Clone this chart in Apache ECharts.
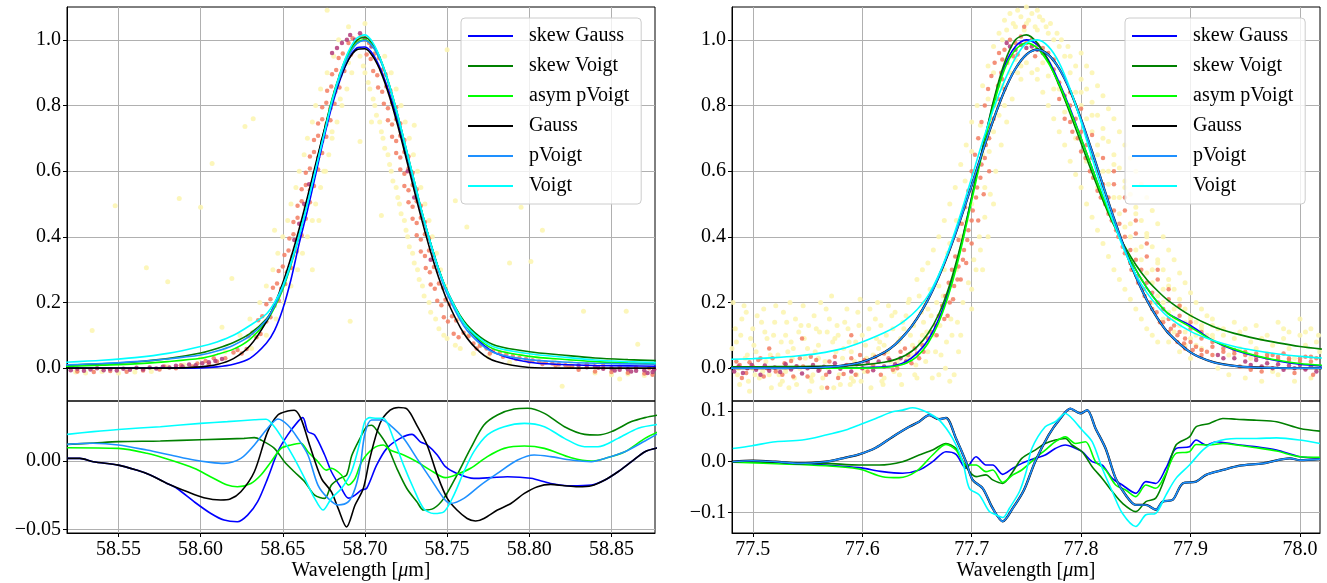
<!DOCTYPE html>
<html><head><meta charset="utf-8">
<script src="https://cdn.jsdelivr.net/npm/echarts@6/dist/echarts.min.js"></script>
<style>html,body{margin:0;padding:0;background:#fff}#c{width:1327px;height:583px}</style>
</head><body><div id="c"></div>
<script>
// ---------- names / colours ----------
const fitNames = ['skew Gauss','skew Voigt','asym pVoigt','Gauss','pVoigt','Voigt'];
const fitColors = ['#0000ff','#008000','#00ff00','#000000','#1e90ff','#00ffff'];

// ---------- left panel: fitted profiles ----------
const xL = [58.518,58.54,58.56,58.58,58.60,58.61,58.62,58.63,58.64,58.645,58.65,58.655,58.66,58.665,58.67,58.675,58.68,58.685,58.69,58.695,58.70,58.705,58.71,58.715,58.72,58.725,58.73,58.735,58.74,58.745,58.75,58.76,58.77,58.78,58.80,58.82,58.84,58.86,58.877];
const L_skewGauss = [0,0,0,0,0.001,0.004,0.012,0.03,0.076,0.115,0.18,0.27,0.38,0.48,0.59,0.7,0.8,0.88,0.94,0.975,0.978,0.955,0.905,0.835,0.75,0.655,0.56,0.465,0.38,0.3,0.235,0.14,0.08,0.045,0.018,0.011,0.008,0.007,0.006];
const L_skewVoigt = [0.009,0.013,0.019,0.029,0.046,0.06,0.078,0.105,0.15,0.19,0.245,0.32,0.41,0.51,0.615,0.72,0.82,0.9,0.96,0.998,1.008,0.985,0.935,0.86,0.77,0.67,0.57,0.47,0.38,0.3,0.235,0.145,0.095,0.068,0.05,0.04,0.031,0.026,0.023];
const L_asymPVoigt = [0.005,0.009,0.013,0.02,0.03,0.042,0.058,0.088,0.142,0.185,0.24,0.315,0.405,0.505,0.61,0.715,0.815,0.895,0.955,0.99,1.0,0.978,0.93,0.856,0.765,0.665,0.565,0.468,0.378,0.298,0.232,0.14,0.085,0.055,0.036,0.027,0.02,0.016,0.013];
const L_gauss = [0,0,0,0,0.004,0.011,0.029,0.068,0.141,0.194,0.259,0.337,0.425,0.521,0.621,0.72,0.81,0.885,0.94,0.97,0.973,0.948,0.898,0.826,0.738,0.641,0.541,0.444,0.354,0.274,0.206,0.107,0.049,0.02,0.002,0,0,0,0];
const L_pVoigt = [0.01,0.014,0.02,0.028,0.04,0.052,0.07,0.098,0.147,0.19,0.245,0.318,0.405,0.502,0.605,0.71,0.81,0.89,0.95,0.988,0.998,0.978,0.93,0.858,0.768,0.668,0.566,0.468,0.376,0.294,0.226,0.13,0.075,0.045,0.026,0.019,0.015,0.013,0.012];
const L_voigt = [0.018,0.024,0.032,0.045,0.066,0.08,0.1,0.13,0.165,0.2,0.25,0.32,0.405,0.5,0.605,0.71,0.815,0.9,0.965,1.005,1.015,0.99,0.935,0.86,0.77,0.67,0.57,0.47,0.38,0.3,0.235,0.14,0.09,0.062,0.044,0.034,0.025,0.02,0.017];

// ---------- right panel: fitted profiles ----------
const xR = [77.479,77.50,77.52,77.54,77.56,77.58,77.60,77.62,77.63,77.64,77.65,77.66,77.67,77.68,77.69,77.70,77.71,77.72,77.73,77.74,77.75,77.76,77.77,77.78,77.79,77.80,77.81,77.82,77.83,77.84,77.85,77.86,77.87,77.88,77.90,77.92,77.94,77.96,77.98,78.00,78.02];
const R_skewGauss = [0,0,0,0,0,0.001,0.002,0.004,0.008,0.02,0.045,0.085,0.15,0.245,0.37,0.52,0.67,0.81,0.92,0.98,1.0,0.985,0.94,0.87,0.79,0.7,0.61,0.52,0.44,0.365,0.3,0.245,0.2,0.165,0.13,0.085,0.055,0.036,0.022,0.012,0.007];
const R_skewVoigt = [0.004,0.004,0.005,0.005,0.006,0.007,0.01,0.018,0.026,0.04,0.065,0.105,0.165,0.255,0.375,0.52,0.67,0.815,0.93,1.0,1.015,0.99,0.935,0.86,0.775,0.685,0.595,0.51,0.435,0.37,0.315,0.27,0.235,0.205,0.16,0.128,0.106,0.09,0.077,0.066,0.058];
const R_asymPVoigt = [0,0,0,0,0,0,0,0.002,0.006,0.015,0.035,0.075,0.14,0.235,0.36,0.51,0.66,0.8,0.91,0.97,0.99,0.975,0.93,0.865,0.785,0.7,0.61,0.52,0.44,0.365,0.3,0.245,0.2,0.165,0.125,0.085,0.058,0.038,0.024,0.014,0.009];
const R_gauss = [0,0,0.0001,0.0006,0.002,0.007,0.019,0.048,0.072,0.106,0.151,0.208,0.279,0.362,0.456,0.557,0.66,0.758,0.845,0.912,0.955,0.97,0.955,0.912,0.845,0.758,0.66,0.557,0.456,0.362,0.279,0.208,0.151,0.106,0.048,0.019,0.007,0.002,0.0006,0.0001,0];
const R_pVoigt = [0,0,0.0001,0.0006,0.002,0.007,0.019,0.048,0.072,0.106,0.151,0.208,0.279,0.362,0.456,0.557,0.66,0.758,0.845,0.912,0.955,0.97,0.955,0.912,0.845,0.758,0.66,0.557,0.456,0.362,0.279,0.208,0.151,0.106,0.048,0.019,0.007,0.002,0.0006,0.0001,0];
const R_voigt = [0.027,0.029,0.032,0.037,0.045,0.058,0.08,0.108,0.125,0.148,0.178,0.22,0.285,0.37,0.47,0.58,0.69,0.79,0.875,0.945,0.99,1.0,0.98,0.93,0.85,0.75,0.64,0.535,0.44,0.355,0.285,0.23,0.188,0.155,0.112,0.085,0.066,0.053,0.043,0.036,0.031];

// ---------- left residuals [wavelength, residual] ----------
const resL_skewGauss = [[58.5188,0.0019],[58.5265,0.0019],[58.5347,-0.0005],[58.55,-0.003],[58.561,-0.0066],[58.569,-0.01],[58.5796,-0.0163],[58.5857,-0.02],[58.596,-0.0296],[58.606,-0.038],[58.6143,-0.043],[58.6224,-0.0442],[58.6286,-0.0394],[58.6347,-0.0296],[58.6408,-0.0126],[58.647,0.0068],[58.653,0.019],[58.6592,0.0287],[58.6622,0.0316],[58.6653,0.0214],[58.6694,0.019],[58.6755,0.0044],[58.6796,-0.0078],[58.6857,-0.02],[58.69,-0.027],[58.694,-0.0248],[58.698,-0.021],[58.701,-0.02],[58.7071,-0.003],[58.7133,0.0092],[58.7214,0.0165],[58.7286,0.0194],[58.7337,0.014],[58.7378,0.0117],[58.744,0.0044],[58.749,-0.0041],[58.756,-0.009],[58.7663,-0.0126],[58.7765,-0.0121],[58.7867,-0.0114],[58.801,-0.0126],[58.813,-0.0163],[58.8255,-0.018],[58.8378,-0.0175],[58.846,-0.0138],[58.854,-0.0078],[58.8622,-0.0005],[58.8704,0.0068],[58.8786,0.0097]];
const resL_skewVoigt = [[58.5188,0.0121],[58.535,0.0131],[58.55,0.0141],[58.5755,0.0146],[58.60,0.0155],[58.6265,0.0165],[58.6327,0.017],[58.6367,0.0153],[58.6449,0.0092],[58.651,-0.0005],[58.657,-0.0078],[58.6633,-0.015],[58.6694,-0.0248],[58.6755,-0.0272],[58.6796,-0.0175],[58.6847,-0.0126],[58.6888,-0.0102],[58.692,0.004],[58.697,0.0165],[58.701,0.025],[58.704,0.026],[58.7071,0.0226],[58.7133,0.0117],[58.7194,-0.0053],[58.7255,-0.02],[58.7316,-0.0296],[58.7357,-0.0357],[58.7418,-0.0345],[58.748,-0.0272],[58.756,-0.0102],[58.7643,0.0092],[58.7724,0.0262],[58.7806,0.0335],[58.7908,0.0379],[58.799,0.0384],[58.8092,0.0347],[58.8214,0.025],[58.8337,0.0194],[58.8418,0.019],[58.85,0.0214],[58.8622,0.0287],[58.8704,0.0316],[58.8786,0.0335]];
const resL_asymPVoigt = [[58.5188,0.0097],[58.55,0.0092],[58.5673,0.0056],[58.5816,0.0007],[58.596,-0.0053],[58.606,-0.0114],[58.6163,-0.0175],[58.6224,-0.0187],[58.6306,-0.0163],[58.6367,-0.0102],[58.6429,-0.0005],[58.649,0.0092],[58.655,0.0117],[58.661,0.0129],[58.6653,0.0068],[58.6714,-0.0005],[58.6765,-0.0066],[58.6796,-0.0053],[58.6857,-0.0102],[58.69,-0.0175],[58.694,-0.0126],[58.698,-0.0005],[58.7051,0.0092],[58.7112,0.0117],[58.7153,0.008],[58.7235,0.0044],[58.7316,-0.0005],[58.7398,-0.0066],[58.749,-0.0121],[58.756,-0.0097],[58.7643,-0.0053],[58.7745,0.0032],[58.7847,0.0092],[58.797,0.0109],[58.8092,0.0092],[58.8255,0.0024],[58.8378,0.0],[58.846,0.0019],[58.8582,0.0068],[58.8704,0.0165],[58.8786,0.0214]];
const resL_gauss = [[58.5188,0.0019],[58.5265,0.0019],[58.5347,-0.0005],[58.55,-0.003],[58.561,-0.0066],[58.569,-0.01],[58.5796,-0.0163],[58.592,-0.0224],[58.602,-0.0267],[58.6122,-0.0284],[58.618,-0.0277],[58.6245,-0.0224],[58.6327,-0.0078],[58.6408,0.0214],[58.647,0.0335],[58.653,0.0364],[58.657,0.037],[58.661,0.031],[58.6663,0.0117],[58.6735,-0.0126],[58.6796,-0.0224],[58.6837,-0.0345],[58.6888,-0.048],[58.694,-0.032],[58.699,-0.02],[58.703,0.002],[58.7092,0.0275],[58.7153,0.037],[58.7204,0.039],[58.7255,0.038],[58.7316,0.026],[58.7378,0.0117],[58.744,-0.0102],[58.75,-0.027],[58.756,-0.0357],[58.7622,-0.0418],[58.7673,-0.0437],[58.7724,-0.0418],[58.7806,-0.0357],[58.7888,-0.0309],[58.797,-0.0236],[58.805,-0.0187],[58.813,-0.017],[58.8214,-0.018],[58.8296,-0.0187],[58.8378,-0.018],[58.846,-0.0138],[58.854,-0.0078],[58.8622,-0.0005],[58.8704,0.0068],[58.8786,0.0097]];
const resL_pVoigt = [[58.5188,0.0121],[58.5347,0.0129],[58.55,0.0117],[58.5673,0.008],[58.5816,0.0044],[58.596,0.0007],[58.606,-0.001],[58.6143,-0.0017],[58.6245,0.0019],[58.6327,0.0117],[58.6408,0.0238],[58.647,0.0306],[58.653,0.0262],[58.6592,0.0165],[58.6653,0.0044],[58.6714,-0.0175],[58.6776,-0.0272],[58.6837,-0.032],[58.69,-0.0296],[58.694,-0.02],[58.697,-0.005],[58.70,0.02],[58.704,0.0299],[58.7102,0.0299],[58.7153,0.0262],[58.7235,0.0165],[58.7316,0.0019],[58.7398,-0.0126],[58.748,-0.0272],[58.752,-0.0309],[58.7602,-0.0272],[58.7704,-0.0175],[58.7806,-0.009],[58.7929,0.0007],[58.803,0.0044],[58.813,0.0032],[58.8255,0.0007],[58.8378,-0.0005],[58.846,0.0019],[58.8582,0.0068],[58.8704,0.0146],[58.8786,0.0202]];
const resL_voigt = [[58.5188,0.0194],[58.5347,0.0214],[58.55,0.023],[58.5755,0.025],[58.60,0.0274],[58.6163,0.0287],[58.6327,0.03],[58.6398,0.0304],[58.6449,0.025],[58.651,0.0141],[58.657,0.0019],[58.6633,-0.0126],[58.6694,-0.0272],[58.6745,-0.0357],[58.6796,-0.0272],[58.6857,-0.02],[58.6918,-0.0078],[58.697,0.014],[58.70,0.029],[58.703,0.0316],[58.7071,0.0311],[58.7112,0.0311],[58.7173,0.0165],[58.7235,-0.003],[58.7296,-0.02],[58.7357,-0.0345],[58.7418,-0.0382],[58.748,-0.037],[58.7541,-0.0248],[58.7602,-0.0078],[58.7663,0.0068],[58.7745,0.019],[58.7847,0.025],[58.797,0.0274],[58.8092,0.025],[58.8214,0.0165],[58.8337,0.0104],[58.8418,0.0104],[58.854,0.0165],[58.8663,0.0238],[58.8786,0.0267]];

// ---------- right residuals ----------
const resR_skewGauss = [[77.4817,0.0],[77.5208,-0.001],[77.5666,-0.0066],[77.5971,-0.0118],[77.6185,-0.0197],[77.6368,-0.023],[77.652,-0.0164],[77.6643,0.0],[77.6765,0.0197],[77.6857,0.0145],[77.6948,-0.013],[77.704,0.0099],[77.7131,-0.0066],[77.7192,-0.0066],[77.7284,-0.025],[77.7376,-0.013],[77.7458,-0.0033],[77.758,0.0066],[77.7672,0.0132],[77.7764,0.026],[77.7856,0.033],[77.7917,0.0296],[77.8009,0.0197],[77.8101,0.0],[77.8193,-0.0066],[77.8285,-0.033],[77.8377,-0.046],[77.85,-0.0625],[77.8592,-0.0395],[77.8683,-0.043],[77.8775,-0.013],[77.8867,0.026],[77.899,0.0296],[77.905,0.0428],[77.9142,0.033],[77.9234,0.0395],[77.9418,0.034],[77.9602,0.0296],[77.9786,0.023],[78.0,0.0099],[78.0183,0.0079]];
const resR_skewVoigt = [[77.4817,0.0],[77.5666,-0.0033],[77.5971,-0.0066],[77.6154,-0.0066],[77.6368,0.0],[77.652,0.0132],[77.6643,0.023],[77.6765,0.036],[77.6857,0.026],[77.6948,-0.0099],[77.704,-0.0296],[77.7131,-0.026],[77.7192,-0.036],[77.7284,-0.0428],[77.7376,-0.0197],[77.7458,0.0066],[77.758,0.023],[77.7672,0.036],[77.7764,0.0428],[77.7856,0.046],[77.7917,0.033],[77.8009,0.0197],[77.8101,-0.0099],[77.8193,-0.033],[77.8285,-0.059],[77.8377,-0.082],[77.85,-0.0987],[77.8592,-0.079],[77.8683,-0.072],[77.8775,-0.026],[77.8867,0.033],[77.899,0.049],[77.905,0.069],[77.9173,0.0757],[77.9296,0.0855],[77.9418,0.084],[77.9602,0.082],[77.9786,0.079],[78.0,0.0658],[78.0183,0.0605]];
const resR_asymPVoigt = [[77.4817,-0.001],[77.5666,-0.008],[77.5971,-0.0145],[77.6185,-0.0296],[77.6337,-0.0316],[77.649,-0.0197],[77.6643,0.0132],[77.6765,0.0342],[77.6857,0.023],[77.6948,-0.0066],[77.704,-0.0066],[77.7131,-0.0197],[77.7192,-0.0164],[77.7284,-0.041],[77.7376,-0.026],[77.7458,-0.0164],[77.758,0.0066],[77.7672,0.023],[77.7764,0.0395],[77.7856,0.049],[77.7948,0.036],[77.804,0.0395],[77.8132,0.0],[77.8224,-0.0164],[77.8316,-0.046],[77.8407,-0.056],[77.85,-0.069],[77.8592,-0.046],[77.8683,-0.0526],[77.8775,-0.023],[77.8867,0.0164],[77.899,0.0197],[77.905,0.034],[77.9173,0.033],[77.9296,0.036],[77.9418,0.033],[77.9602,0.0276],[77.9786,0.021],[78.0,0.0099],[78.0183,0.0086]];
const resR_gauss = [[77.4817,0.0],[77.4994,0.002],[77.5208,0.0],[77.5421,-0.0033],[77.5666,0.0],[77.5818,0.0066],[77.5971,0.0145],[77.6124,0.0276],[77.6276,0.049],[77.6429,0.069],[77.652,0.079],[77.6612,0.092],[77.6704,0.084],[77.6765,0.0868],[77.6857,0.046],[77.6948,0.0],[77.7009,-0.036],[77.7101,-0.0526],[77.7192,-0.092],[77.7284,-0.118],[77.7376,-0.092],[77.7478,-0.056],[77.758,0.0],[77.7703,0.0526],[77.781,0.0855],[77.7902,0.105],[77.7994,0.0954],[77.8055,0.102],[77.8132,0.0658],[77.8224,0.026],[77.8316,-0.033],[77.8407,-0.066],[77.85,-0.0855],[77.8592,-0.0855],[77.8683,-0.095],[77.8744,-0.079],[77.8836,-0.0757],[77.8928,-0.043],[77.905,-0.0395],[77.9142,-0.026],[77.9296,-0.0164],[77.9449,-0.0079],[77.9663,-0.0033],[77.9908,0.0066],[78.0,0.003],[78.0183,0.005]];
const resR_pVoigt = [[77.4817,0.0],[77.4994,0.002],[77.5208,0.0],[77.5421,-0.0033],[77.5666,0.0],[77.5818,0.0066],[77.5971,0.0145],[77.6124,0.0276],[77.6276,0.049],[77.6429,0.069],[77.652,0.079],[77.6612,0.092],[77.6704,0.084],[77.6765,0.0868],[77.6857,0.046],[77.6948,0.0],[77.7009,-0.036],[77.7101,-0.0526],[77.7192,-0.092],[77.7284,-0.118],[77.7376,-0.092],[77.7478,-0.056],[77.758,0.0],[77.7703,0.0526],[77.781,0.0855],[77.7902,0.105],[77.7994,0.0954],[77.8055,0.102],[77.8132,0.0658],[77.8224,0.026],[77.8316,-0.033],[77.8407,-0.066],[77.85,-0.0855],[77.8592,-0.0855],[77.8683,-0.095],[77.8744,-0.079],[77.8836,-0.0757],[77.8928,-0.043],[77.905,-0.0395],[77.9142,-0.026],[77.9296,-0.0164],[77.9449,-0.0079],[77.9663,-0.0033],[77.9908,0.0066],[78.0,0.003],[78.0183,0.005]];
const resR_voigt = [[77.4817,0.026],[77.4994,0.0316],[77.5208,0.0395],[77.5452,0.0428],[77.5666,0.0526],[77.5849,0.0625],[77.5971,0.0724],[77.6124,0.0855],[77.6276,0.0987],[77.6368,0.102],[77.646,0.1066],[77.6582,0.0987],[77.6704,0.0822],[77.6826,0.046],[77.6918,0.0],[77.6979,-0.0526],[77.707,-0.0658],[77.7162,-0.0987],[77.7223,-0.105],[77.7284,-0.1105],[77.7345,-0.092],[77.7437,-0.059],[77.7498,-0.02],[77.755,0.026],[77.7672,0.069],[77.7764,0.079],[77.7856,0.0954],[77.7917,0.0855],[77.8009,0.0625],[77.8101,0.0395],[77.8193,-0.013],[77.8285,-0.059],[77.8377,-0.102],[77.85,-0.128],[77.8592,-0.105],[77.8683,-0.102],[77.8775,-0.066],[77.8867,-0.033],[77.899,-0.0066],[77.9112,0.023],[77.9234,0.0395],[77.9418,0.046],[77.9602,0.046],[77.9786,0.047],[78.0,0.0428],[78.0183,0.036]];

// ---------- measured points, left panel (sparse / mid / dense) ----------
const ptsL_sparse = [[58.615,0.05],[58.631,0.06],[58.624,0.1],[58.64,0.1],[58.63,0.15],[58.646,0.15],[58.636,0.2],[58.651,0.2],[58.64,0.25],[58.655,0.25],[58.644,0.3],[58.659,0.3],[58.647,0.35],[58.662,0.35],[58.65,0.4],[58.665,0.4],[58.653,0.45],[58.668,0.45],[58.655,0.5],[58.67,0.5],[58.658,0.55],[58.673,0.55],[58.66,0.6],[58.675,0.6],[58.663,0.65],[58.678,0.65],[58.665,0.7],[58.68,0.7],[58.668,0.75],[58.683,0.75],[58.67,0.8],[58.686,0.8],[58.673,0.85],[58.689,0.85],[58.677,0.9],[58.692,0.9],[58.681,0.95],[58.684,1.0],[58.69,1.04],[58.70,1.05],[58.697,0.95],[58.712,0.95],[58.70,0.9],[58.716,0.9],[58.703,0.85],[58.719,0.85],[58.706,0.8],[58.722,0.8],[58.709,0.75],[58.7245,0.75],[58.711,0.7],[58.727,0.7],[58.714,0.65],[58.7295,0.65],[58.716,0.6],[58.732,0.6],[58.719,0.55],[58.734,0.55],[58.721,0.5],[58.7365,0.5],[58.724,0.45],[58.739,0.45],[58.726,0.4],[58.741,0.4],[58.729,0.35],[58.7435,0.35],[58.732,0.3],[58.746,0.3],[58.735,0.25],[58.749,0.25],[58.739,0.2],[58.7525,0.2],[58.743,0.15],[58.757,0.15],[58.748,0.1],[58.763,0.1],[58.755,0.07],[58.77,0.075],[58.778,0.065],[58.786,0.055],[58.795,0.045],[58.805,0.035],[58.815,0.025],[58.825,0.02],[58.699,0.92],[58.702,0.87],[58.705,0.82],[58.707,0.77],[58.71,0.72],[58.712,0.67],[58.715,0.62],[58.717,0.57],[58.72,0.52],[58.722,0.47],[58.725,0.42],[58.727,0.37],[58.73,0.32],[58.733,0.27],[58.736,0.22],[58.74,0.17],[58.745,0.12],[58.75,0.09],[58.758,0.06],[58.766,0.045],[58.775,0.035],[58.668,0.3],[58.672,0.45],[58.676,0.6],[58.68,0.72],[58.685,0.82],[58.69,0.93],[58.60,0.03],[58.59,0.01],[58.58,0.005],[58.57,-0.01],[58.56,-0.012],[58.55,-0.015],[58.54,-0.01],[58.53,-0.015],[58.524,-0.012],[58.84,-0.015],[58.85,-0.02],[58.86,-0.018],[58.87,-0.022],[58.877,-0.02],[58.548,0.495],[58.587,0.517],[58.607,0.623],[58.60,0.49],[58.627,0.736],[58.632,0.76],[58.567,0.306],[58.58,0.263],[58.619,0.273],[58.534,0.115],[58.645,0.42],[58.613,0.125],[58.75,0.97],[58.704,0.75],[58.73,0.74],[58.697,0.69],[58.755,0.51],[58.762,0.43],[58.795,0.49],[58.808,0.42],[58.788,0.32],[58.801,0.325],[58.833,0.173],[58.859,0.173],[58.691,0.143],[58.71,0.465],[58.866,0.073],[58.855,-0.033],[58.82,-0.055],[58.788,0.018],[58.677,1.09]];
const ptsL_mid = [[58.620,0.048],[58.6225,0.055],[58.625,0.045],[58.628,0.058],[58.629,0.097],[58.6315,0.108],[58.634,0.094],[58.6365,0.104],[58.635,0.146],[58.6375,0.158],[58.640,0.142],[58.6425,0.155],[58.640,0.195],[58.6425,0.21],[58.645,0.19],[58.6475,0.205],[58.644,0.245],[58.6465,0.258],[58.649,0.242],[58.6515,0.256],[58.6475,0.296],[58.650,0.31],[58.6525,0.292],[58.655,0.305],[58.651,0.345],[58.6535,0.358],[58.656,0.342],[58.6585,0.355],[58.654,0.395],[58.6565,0.408],[58.659,0.392],[58.6615,0.405],[58.6565,0.445],[58.659,0.458],[58.6615,0.442],[58.664,0.455],[58.659,0.495],[58.6615,0.508],[58.664,0.492],[58.6665,0.505],[58.6615,0.545],[58.664,0.558],[58.6665,0.542],[58.669,0.555],[58.664,0.595],[58.6665,0.608],[58.669,0.592],[58.6715,0.605],[58.6665,0.645],[58.669,0.658],[58.6715,0.642],[58.674,0.655],[58.669,0.695],[58.6715,0.708],[58.674,0.692],[58.6765,0.705],[58.6715,0.745],[58.674,0.758],[58.6765,0.742],[58.679,0.755],[58.674,0.795],[58.6765,0.808],[58.679,0.792],[58.6815,0.805],[58.677,0.845],[58.6795,0.858],[58.682,0.842],[58.6845,0.855],[58.680,0.895],[58.6825,0.908],[58.685,0.892],[58.6875,0.905],[58.684,0.945],[58.6865,0.958],[58.689,0.942],[58.6915,0.955],[58.690,0.99],[58.6925,1.005],[58.695,0.995],[58.6975,1.012],[58.700,1.0],[58.7025,0.99],[58.701,0.955],[58.7035,0.942],[58.706,0.958],[58.7085,0.945],[58.705,0.905],[58.7075,0.892],[58.710,0.908],[58.7125,0.895],[58.708,0.855],[58.7105,0.842],[58.713,0.858],[58.7155,0.845],[58.7115,0.805],[58.714,0.792],[58.7165,0.808],[58.719,0.795],[58.714,0.755],[58.7165,0.742],[58.719,0.758],[58.7215,0.745],[58.7165,0.705],[58.719,0.692],[58.7215,0.708],[58.724,0.695],[58.719,0.655],[58.7215,0.642],[58.724,0.658],[58.7265,0.645],[58.7215,0.605],[58.724,0.592],[58.7265,0.608],[58.729,0.595],[58.724,0.555],[58.7265,0.542],[58.729,0.558],[58.7315,0.545],[58.7265,0.505],[58.729,0.492],[58.7315,0.508],[58.734,0.495],[58.729,0.455],[58.7315,0.442],[58.734,0.458],[58.7365,0.445],[58.7315,0.405],[58.734,0.392],[58.7365,0.408],[58.739,0.395],[58.734,0.355],[58.7365,0.342],[58.739,0.358],[58.7415,0.345],[58.737,0.305],[58.7395,0.292],[58.742,0.308],[58.7445,0.295],[58.740,0.255],[58.7425,0.242],[58.745,0.258],[58.7475,0.245],[58.744,0.205],[58.7465,0.192],[58.749,0.208],[58.7515,0.195],[58.748,0.155],[58.7505,0.142],[58.753,0.158],[58.7555,0.145],[58.754,0.105],[58.757,0.094],[58.760,0.108],[58.763,0.097],[58.766,0.075],[58.77,0.068],[58.774,0.06],[58.778,0.052],[58.782,0.047],[58.786,0.042],[58.79,0.037],[58.794,0.032],[58.798,0.028],[58.802,0.024],[58.806,0.02],[58.81,0.017],[58.814,0.014],[58.818,0.011],[58.822,0.009],[58.826,0.006],[58.768,0.06],[58.776,0.045],[58.784,0.035],[58.792,0.028],[58.80,0.02],[58.808,0.013],[58.816,0.008],[58.824,0.004],[58.525,-0.01],[58.535,-0.012],[58.545,-0.009],[58.555,-0.011],[58.565,-0.007],[58.575,-0.004],[58.585,0.0],[58.595,0.005],[58.605,0.012],[58.61,0.02],[58.615,0.03],[58.603,0.022],[58.608,0.03],[58.598,0.014],[58.588,0.009],[58.578,0.005],[58.83,-0.005],[58.84,-0.01],[58.85,-0.012],[58.86,-0.014],[58.87,-0.016],[58.875,-0.02],[58.835,0.012],[58.845,0.008],[58.855,0.004],[58.865,0.002],[58.873,0.0]];
const ptsL_dense = [[58.521,-0.006],[58.525,-0.002],[58.529,-0.008],[58.533,-0.004],[58.537,0.0],[58.541,-0.006],[58.545,-0.003],[58.549,-0.007],[58.553,-0.002],[58.557,-0.005],[58.561,0.001],[58.565,-0.004],[58.569,0.002],[58.573,-0.001],[58.577,0.004],[58.581,0.002],[58.585,0.007],[58.589,0.005],[58.593,0.011],[58.597,0.009],[58.601,0.015],[58.605,0.018],[58.609,0.022],[58.613,0.028],[58.686,0.99],[58.689,1.0],[58.691,1.015],[58.694,1.0],[58.697,1.02],[58.68,0.96],[58.683,0.975],[58.700,1.005],[58.704,0.98],[58.657,0.39],[58.66,0.44],[58.663,0.5],[58.666,0.56],[58.726,0.6],[58.73,0.52],[58.74,0.33],[58.83,0.008],[58.835,0.003],[58.84,0.005],[58.845,-0.002],[58.85,0.0],[58.855,-0.005],[58.86,-0.003],[58.865,-0.008],[58.87,-0.006],[58.875,-0.012],[58.862,-0.01],[58.852,-0.007],[58.842,0.001],[58.872,-0.015],[58.876,-0.004]];

// ---------- measured points, right panel ----------
const ptsR_sparse = [[77.482,0.2],[77.485,0.08],[77.488,-0.05],[77.49,0.15],[77.493,0.03],[77.497,-0.07],[77.5,0.12],[77.503,0.05],[77.506,-0.03],[77.51,0.18],[77.513,0.09],[77.517,-0.06],[77.52,0.14],[77.523,0.04],[77.527,-0.04],[77.53,0.1],[77.534,0.2],[77.537,0.06],[77.54,-0.05],[77.544,0.13],[77.548,0.03],[77.552,-0.07],[77.556,0.16],[77.56,0.07],[77.564,-0.03],[77.568,0.11],[77.572,0.22],[77.576,0.05],[77.58,-0.05],[77.584,0.14],[77.588,0.08],[77.592,-0.04],[77.596,0.17],[77.6,0.1],[77.604,0.03],[77.608,-0.06],[77.612,0.15],[77.616,0.08],[77.62,-0.03],[77.624,0.19],[77.628,0.12],[77.632,0.02],[77.636,-0.05],[77.64,0.16],[77.644,0.1],[77.648,-0.02],[77.652,0.22],[77.656,0.14],[77.66,0.05],[77.664,-0.03],[77.668,0.2],[77.672,0.04],[77.676,0.0],[77.68,-0.04],[77.495,0.04],[77.515,-0.02],[77.535,0.08],[77.555,-0.02],[77.575,0.09],[77.595,-0.02],[77.615,0.06],[77.635,0.09],[77.655,0.1],[77.5,0.0],[77.53,-0.01],[77.56,0.03],[77.59,0.05],[77.62,0.07],[77.645,0.04],[77.484,0.12],[77.487,0.0],[77.492,0.19],[77.498,0.09],[77.502,-0.02],[77.508,0.14],[77.512,0.02],[77.519,0.1],[77.525,-0.05],[77.528,0.17],[77.532,0.05],[77.538,-0.03],[77.542,0.11],[77.546,0.19],[77.55,0.06],[77.554,-0.04],[77.558,0.12],[77.562,0.2],[77.566,0.02],[77.57,0.15],[77.574,-0.06],[77.578,0.1],[77.582,0.03],[77.586,0.18],[77.59,-0.03],[77.594,0.08],[77.598,0.21],[77.602,-0.01],[77.606,0.12],[77.61,0.04],[77.614,0.2],[77.618,-0.04],[77.622,0.1],[77.626,0.02],[77.63,0.17],[77.634,-0.02],[77.638,0.12],[77.642,0.2],[77.646,0.07],[77.65,-0.03],[77.654,0.17],[77.658,0.02],[77.662,0.24],[77.666,0.1],[77.67,-0.02],[77.481,0.06],[77.486,-0.02],[77.489,0.1],[77.494,0.17],[77.496,-0.04],[77.501,0.07],[77.504,0.16],[77.509,-0.01],[77.511,0.11],[77.516,0.04],[77.521,0.19],[77.524,-0.02],[77.526,0.08],[77.531,0.14],[77.533,-0.06],[77.536,0.03],[77.539,0.15],[77.543,0.0],[77.547,0.09],[77.551,0.13],[77.553,-0.03],[77.557,0.05],[77.561,0.11],[77.563,-0.06],[77.567,0.18],[77.569,0.0],[77.573,0.08],[77.577,0.13],[77.579,-0.02],[77.583,0.06],[77.587,0.12],[77.589,-0.05],[77.593,0.02],[77.597,0.13],[77.599,-0.04],[77.603,0.07],[77.607,0.18],[77.609,0.01],[77.613,0.09],[77.617,0.13],[77.619,-0.05],[77.623,0.05],[77.627,0.16],[77.629,-0.01],[77.633,0.08],[77.637,0.14],[77.641,0.03],[77.643,0.21],[77.647,0.13],[77.649,0.01],[77.653,0.08],[77.657,0.2],[77.659,0.11],[77.663,0.16],[77.667,0.05],[77.671,0.13],[77.674,0.22],[77.677,0.08],[77.681,0.15],[77.684,-0.02],[77.688,0.05],[77.65,0.27],[77.655,0.3],[77.66,0.32],[77.665,0.36],[77.67,0.4],[77.675,0.45],[77.68,0.5],[77.685,0.55],[77.69,0.62],[77.695,0.68],[77.70,0.75],[77.705,0.8],[77.71,0.86],[77.715,0.92],[77.72,0.98],[77.725,1.02],[77.73,1.06],[77.735,1.08],[77.682,0.1],[77.687,0.14],[77.692,0.2],[77.697,0.26],[77.702,0.33],[77.707,0.4],[77.712,0.46],[77.717,0.53],[77.722,0.6],[77.727,0.68],[77.732,0.75],[77.737,0.82],[77.742,0.9],[77.66,0.18],[77.67,0.25],[77.678,0.35],[77.686,0.45],[77.694,0.57],[77.70,0.66],[77.708,0.74],[77.715,0.82],[77.72,0.9],[77.69,0.1],[77.70,0.18],[77.71,0.3],[77.715,0.4],[77.72,0.5],[77.675,0.3],[77.68,0.38],[77.686,0.3],[77.69,0.4],[77.695,0.45],[77.70,0.5],[77.705,0.6],[77.71,0.65],[77.714,0.7],[77.718,0.75],[77.723,0.8],[77.728,0.86],[77.733,0.93],[77.7,0.24],[77.704,0.3],[77.708,0.36],[77.712,0.55],[77.716,0.66],[77.72,0.72],[77.725,0.77],[77.73,0.8],[77.74,1.04],[77.745,1.07],[77.75,1.05],[77.755,1.08],[77.76,1.03],[77.765,1.06],[77.77,1.02],[77.775,1.0],[77.78,0.98],[77.745,0.92],[77.755,0.9],[77.765,0.93],[77.735,0.9],[77.785,0.95],[77.75,1.1],[77.76,1.09],[77.728,1.0],[77.732,1.03],[77.738,1.05],[77.742,1.09],[77.748,1.03],[77.752,1.06],[77.758,1.04],[77.762,1.07],[77.768,1.04],[77.772,1.05],[77.778,1.02],[77.782,1.0],[77.788,0.98],[77.74,0.94],[77.75,0.93],[77.76,0.91],[77.77,0.89],[77.78,0.85],[77.745,0.88],[77.76,0.88],[77.765,0.84],[77.77,0.8],[77.775,0.76],[77.78,0.72],[77.785,0.68],[77.79,0.63],[77.795,0.59],[77.80,0.55],[77.805,0.5],[77.81,0.46],[77.815,0.42],[77.82,0.38],[77.825,0.34],[77.83,0.3],[77.835,0.27],[77.84,0.24],[77.845,0.21],[77.85,0.18],[77.855,0.15],[77.86,0.12],[77.865,0.1],[77.87,0.08],[77.79,0.95],[77.795,0.92],[77.80,0.88],[77.805,0.85],[77.81,0.81],[77.815,0.77],[77.82,0.73],[77.825,0.69],[77.83,0.65],[77.835,0.61],[77.84,0.57],[77.845,0.53],[77.85,0.49],[77.855,0.45],[77.86,0.41],[77.865,0.37],[77.87,0.33],[77.875,0.3],[77.88,0.27],[77.885,0.24],[77.89,0.21],[77.895,0.18],[77.90,0.16],[77.905,0.14],[77.91,0.12],[77.915,0.1],[77.92,0.09],[77.815,0.68],[77.825,0.6],[77.835,0.52],[77.845,0.44],[77.855,0.37],[77.865,0.3],[77.875,0.24],[77.885,0.18],[77.895,0.14],[77.905,0.1],[77.88,0.08],[77.89,0.05],[77.90,0.03],[77.795,0.84],[77.80,0.8],[77.805,0.76],[77.81,0.72],[77.815,0.65],[77.82,0.6],[77.825,0.56],[77.83,0.52],[77.835,0.47],[77.84,0.43],[77.845,0.4],[77.85,0.36],[77.855,0.33],[77.86,0.29],[77.865,0.26],[77.87,0.22],[77.875,0.2],[77.88,0.17],[77.885,0.15],[77.89,0.13],[77.895,0.11],[77.90,0.09],[77.905,0.07],[77.91,0.06],[77.8,0.96],[77.81,0.9],[77.82,0.83],[77.83,0.76],[77.84,0.68],[77.85,0.6],[77.86,0.52],[77.87,0.44],[77.88,0.36],[77.89,0.29],[77.9,0.23],[77.91,0.18],[77.92,0.15],[77.93,0.12],[77.79,0.9],[77.80,0.84],[77.81,0.77],[77.82,0.7],[77.83,0.62],[77.84,0.55],[77.85,0.47],[77.86,0.4],[77.87,0.32],[77.88,0.25],[77.89,0.19],[77.9,0.15],[77.91,0.13],[77.92,0.1],[77.775,0.85],[77.785,0.78],[77.795,0.7],[77.805,0.63],[77.815,0.55],[77.825,0.48],[77.835,0.4],[77.845,0.33],[77.855,0.27],[77.865,0.2],[77.875,0.15],[77.885,0.11],[77.895,0.07],[77.805,0.92],[77.815,0.86],[77.825,0.79],[77.835,0.72],[77.845,0.64],[77.855,0.56],[77.865,0.48],[77.875,0.4],[77.885,0.33],[77.895,0.26],[77.905,0.2],[77.915,0.16],[77.925,0.12],[77.92,0.13],[77.93,0.1],[77.935,-0.02],[77.94,0.09],[77.945,0.06],[77.95,-0.03],[77.955,0.08],[77.96,0.06],[77.965,-0.04],[77.97,0.1],[77.975,0.07],[77.98,-0.02],[77.985,0.09],[77.99,0.06],[77.995,-0.04],[78.0,0.1],[78.005,0.07],[78.01,-0.03],[78.015,0.08],[78.018,0.05],[77.93,0.07],[77.95,0.12],[77.97,0.045],[77.99,0.11],[78.01,0.12],[77.925,0.0],[77.935,0.04],[77.945,0.11],[77.955,0.03],[77.965,0.09],[77.975,-0.01],[77.985,0.12],[77.995,0.03],[78.005,0.11],[78.015,0.0],[77.94,0.14],[77.96,0.13],[77.98,0.14],[78.0,0.15],[78.017,0.1]];
const ptsR_mid = [[77.485,0.02],[77.49,-0.03],[77.497,0.018],[77.505,0.025],[77.51,-0.025],[77.518,0.03],[77.527,-0.02],[77.535,0.022],[77.543,0.03],[77.55,-0.025],[77.558,0.025],[77.567,-0.02],[77.575,0.035],[77.583,-0.018],[77.59,0.03],[77.598,0.04],[77.605,-0.01],[77.612,0.035],[77.62,0.045],[77.628,-0.005],[77.635,0.05],[77.642,0.04],[77.648,0.06],[77.652,0.03],[77.545,0.09],[77.568,-0.06],[77.59,0.1],[77.515,0.06],[77.488,0.01],[77.494,-0.015],[77.5,0.005],[77.507,0.03],[77.513,0.0],[77.521,-0.01],[77.529,0.015],[77.537,-0.025],[77.546,0.005],[77.553,0.035],[77.561,-0.005],[77.57,0.02],[77.578,-0.03],[77.586,0.01],[77.594,-0.02],[77.602,0.025],[77.61,0.01],[77.617,-0.02],[77.624,0.03],[77.632,0.0],[77.639,0.06],[77.645,0.015],[77.65,0.045],[77.656,0.05],[77.655,0.07],[77.66,0.09],[77.663,0.11],[77.667,0.13],[77.67,0.16],[77.673,0.19],[77.676,0.22],[77.679,0.26],[77.682,0.3],[77.685,0.34],[77.688,0.39],[77.691,0.44],[77.694,0.49],[77.697,0.54],[77.7,0.6],[77.703,0.65],[77.706,0.7],[77.709,0.75],[77.712,0.8],[77.715,0.85],[77.718,0.89],[77.721,0.93],[77.725,0.96],[77.668,0.1],[77.675,0.15],[77.68,0.2],[77.684,0.25],[77.688,0.31],[77.693,0.36],[77.697,0.42],[77.701,0.48],[77.705,0.55],[77.709,0.62],[77.713,0.68],[77.717,0.74],[77.72,0.8],[77.724,0.86],[77.727,0.9],[77.69,0.27],[77.695,0.32],[77.70,0.38],[77.706,0.45],[77.711,0.53],[77.716,0.6],[77.73,0.85],[77.678,0.16],[77.683,0.21],[77.687,0.27],[77.692,0.33],[77.696,0.39],[77.70,0.45],[77.704,0.52],[77.708,0.58],[77.712,0.64],[77.716,0.7],[77.72,0.76],[77.724,0.82],[77.728,0.88],[77.732,0.93],[77.73,0.97],[77.735,1.0],[77.74,0.99],[77.745,1.01],[77.75,0.99],[77.755,1.0],[77.76,0.985],[77.765,0.975],[77.77,0.96],[77.742,0.955],[77.758,0.95],[77.728,0.94],[77.775,0.94],[77.748,1.04],[77.738,0.95],[77.775,0.91],[77.78,0.87],[77.785,0.83],[77.79,0.8],[77.795,0.76],[77.80,0.72],[77.805,0.68],[77.81,0.64],[77.815,0.6],[77.82,0.56],[77.825,0.52],[77.83,0.48],[77.835,0.44],[77.84,0.4],[77.845,0.36],[77.85,0.33],[77.855,0.3],[77.86,0.26],[77.865,0.23],[77.87,0.2],[77.875,0.18],[77.88,0.15],[77.885,0.13],[77.89,0.11],[77.895,0.09],[77.90,0.08],[77.905,0.065],[77.91,0.055],[77.915,0.05],[77.92,0.04],[77.785,0.76],[77.792,0.72],[77.80,0.66],[77.808,0.6],[77.815,0.54],[77.822,0.5],[77.828,0.45],[77.834,0.4],[77.84,0.35],[77.846,0.3],[77.852,0.26],[77.858,0.22],[77.865,0.18],[77.872,0.14],[77.88,0.11],[77.888,0.08],[77.895,0.06],[77.79,0.84],[77.80,0.79],[77.81,0.71],[77.82,0.64],[77.83,0.56],[77.84,0.48],[77.85,0.41],[77.86,0.34],[77.87,0.27],[77.88,0.21],[77.89,0.16],[77.90,0.12],[77.91,0.09],[77.92,0.065],[77.78,0.82],[77.79,0.75],[77.797,0.7],[77.804,0.64],[77.811,0.58],[77.818,0.52],[77.825,0.47],[77.832,0.42],[77.838,0.37],[77.845,0.32],[77.851,0.28],[77.857,0.24],[77.863,0.2],[77.869,0.17],[77.875,0.14],[77.882,0.12],[77.888,0.1],[77.894,0.075],[77.902,0.055],[77.91,0.04],[77.83,0.6],[77.84,0.52],[77.85,0.45],[77.86,0.38],[77.87,0.3],[77.88,0.24],[77.89,0.19],[77.90,0.14],[77.91,0.11],[77.92,0.08],[77.93,0.06],[77.94,0.055],[77.95,0.05],[77.96,0.045],[77.97,0.04],[77.98,0.035],[77.99,0.03],[78.0,0.03],[78.01,0.035],[77.93,0.05],[77.94,0.045],[77.95,0.04],[77.96,0.035],[77.97,0.03],[77.98,0.028],[77.99,0.025],[78.0,0.022],[78.01,0.02],[78.015,0.03],[77.945,0.005],[77.955,-0.005],[77.965,-0.01],[77.975,0.04],[77.985,0.045],[77.995,-0.015],[78.005,0.035],[78.012,-0.02]];
const ptsR_dense = [[77.483,-0.01],[77.487,0.005],[77.491,-0.015],[77.495,0.0],[77.499,0.01],[77.503,-0.005],[77.507,-0.02],[77.511,0.008],[77.515,-0.008],[77.52,0.002],[77.525,-0.012],[77.53,0.012],[77.535,-0.004],[77.54,0.006],[77.545,-0.016],[77.55,0.0],[77.555,0.01],[77.56,-0.008],[77.565,0.004],[77.57,-0.012],[77.575,0.015],[77.58,-0.002],[77.585,0.008],[77.59,-0.01],[77.595,0.012],[77.60,0.0],[77.605,0.018],[77.61,-0.006],[77.615,0.02],[77.62,0.005],[77.625,0.025],[77.63,0.012],[77.635,0.03],[77.64,0.02],[77.735,0.98],[77.74,0.97],[77.745,0.985],[77.75,0.975],[77.755,0.98],[77.76,0.97],[77.732,0.99],[77.765,0.96],[77.94,0.03],[77.95,0.02],[77.955,0.01],[77.96,0.025],[77.965,0.005],[77.97,0.015],[77.975,0.0],[77.98,0.012],[77.985,-0.005],[77.99,0.008],[77.995,0.0],[78.0,0.01],[78.005,-0.004],[78.01,0.006],[78.015,-0.01],[77.925,0.04],[77.93,0.03]];

// ---------- build ----------
const FONT = 'Liberation Serif';
const zip = (xs, ys) => xs.map((x, i) => [x, ys[i]]);
const fmt = d => v => v.toFixed(d).replace('-', '\u2212');

function xAx(gi, min, max, split, dec, bottom) {
  return {
    type: 'value', gridIndex: gi, min, max, splitNumber: split,
    axisLine: { show: bottom, onZero: false, lineStyle: { color: '#000', width: 1 } },
    axisTick: { show: bottom, length: 4, lineStyle: { color: '#000' } },
    axisLabel: { show: bottom, showMinLabel: false, showMaxLabel: false, formatter: fmt(dec),
      color: '#000', fontFamily: FONT, fontSize: 20, margin: 7 },
    splitLine: { show: true, showMinLine: false, showMaxLine: false, lineStyle: { color: '#b0b0b0', width: 1 } },
    name: bottom ? 'Wavelength [{i|\u03bc}m]' : '', nameLocation: 'middle', nameGap: 27,
    nameTextStyle: { color: '#000', fontFamily: FONT, fontSize: 20,
      rich: { i: { fontStyle: 'italic', fontFamily: FONT, fontSize: 20, color: '#000' } } }
  };
}
function yAx(gi, min, max, split, dec) {
  return {
    type: 'value', gridIndex: gi, min, max, splitNumber: split,
    axisLine: { show: true, onZero: false, lineStyle: { color: '#000', width: 1 } },
    axisTick: { show: true, length: 4, lineStyle: { color: '#000' } },
    axisLabel: { showMinLabel: false, showMaxLabel: false, formatter: fmt(dec),
      color: '#000', fontFamily: FONT, fontSize: 20, margin: 6 },
    splitLine: { show: true, showMinLine: false, showMaxLine: false, lineStyle: { color: '#b0b0b0', width: 1 } }
  };
}
const gridBase = { show: true, borderColor: '#000', borderWidth: 1, backgroundColor: 'transparent', outerBoundsMode: 'none', containLabel: false };
const grids = [
  Object.assign({ left: 67, top: 7, width: 588, height: 394 }, gridBase),
  Object.assign({ left: 67, top: 401, width: 588, height: 132 }, gridBase),
  Object.assign({ left: 732, top: 7, width: 588, height: 394 }, gridBase),
  Object.assign({ left: 732, top: 401, width: 588, height: 132 }, gridBase)
];
const xAxes = [
  xAx(0, 58.5187, 58.8765, 7, 2, false),
  xAx(1, 58.5187, 58.8765, 7, 2, true),
  xAx(2, 77.481, 78.0183, 5, 1, false),
  xAx(3, 77.481, 78.0183, 5, 1, true)
];
const yAxes = [
  yAx(0, -0.1, 1.1, 6, 1),
  yAx(1, -0.0524, 0.0437, 2, 2),
  yAx(2, -0.1, 1.1, 6, 1),
  yAx(3, -0.141, 0.12, 3, 1)
];

const series = [];
function pts(ai, data, color, size, op) {
  series.push({ type: 'scatter', xAxisIndex: ai, yAxisIndex: ai, data, symbol: 'circle', symbolSize: size,
    itemStyle: { color, opacity: op }, silent: true, z: 1, large: false });
}
pts(0, ptsL_sparse, '#fcf5b2', 5, 0.9);
pts(0, ptsL_mid, '#f27d62', 4.5, 0.85);
pts(0, ptsL_dense, '#b23a79', 4.5, 0.85);
pts(2, ptsR_sparse, '#fcf5b2', 5, 0.9);
pts(2, ptsR_mid, '#f27d62', 4.5, 0.85);
pts(2, ptsR_dense, '#b23a79', 4.5, 0.85);

function line(ai, name, data, ci, w) {
  series.push({ type: 'line', name, xAxisIndex: ai, yAxisIndex: ai, data, showSymbol: false, symbol: 'none',
    smooth: 0.3, lineStyle: { color: fitColors[ci], width: w }, itemStyle: { color: fitColors[ci] }, silent: true, z: 3 });
}
const mainL = [L_skewGauss, L_skewVoigt, L_asymPVoigt, L_gauss, L_pVoigt, L_voigt];
const mainR = [R_skewGauss, R_skewVoigt, R_asymPVoigt, R_gauss, R_pVoigt, R_voigt];
const resL = [resL_skewGauss, resL_skewVoigt, resL_asymPVoigt, resL_gauss, resL_pVoigt, resL_voigt];
const resR = [resR_skewGauss, resR_skewVoigt, resR_asymPVoigt, resR_gauss, resR_pVoigt, resR_voigt];
for (let i = 0; i < 6; i++) {
  line(0, fitNames[i], zip(xL, mainL[i]), i, 1.6);
  line(1, fitNames[i], resL[i], i, 1.6);
  line(2, fitNames[i], zip(xR, mainR[i]), i, i === 3 ? 2.3 : 1.6);
  line(3, fitNames[i], resR[i], i, i === 3 ? 2.3 : 1.6);
}

function legendAt(left) {
  return { data: fitNames, left, top: 18, orient: 'vertical', icon: 'rect', itemWidth: 45, itemHeight: 2,
    itemGap: 10, padding: [8, 12, 8, 7], backgroundColor: 'rgba(255,255,255,0.8)', borderColor: '#cccccc',
    borderWidth: 1, borderRadius: 4, selectedMode: false,
    textStyle: { fontFamily: FONT, fontSize: 20, color: '#000', padding: [0, 0, 0, 11] } };
}

const chart = echarts.init(document.getElementById('c'), null, { renderer: 'canvas' });
chart.setOption({
  animation: false, backgroundColor: '#fff',
  grid: grids, xAxis: xAxes, yAxis: yAxes,
  legend: [legendAt(461), legendAt(1125)],
  series
});
</script></body></html>
